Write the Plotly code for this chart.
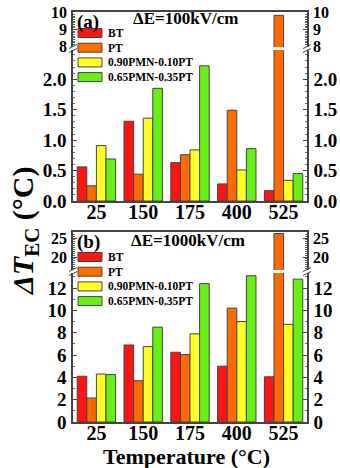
import plotly.graph_objects as go

categories = ["25", "150", "175", "400", "525"]
names = ["BT", "PT", "0.90PMN-0.10PT", "0.65PMN-0.35PT"]
colors = ["#ff1414", "#ff6a00", "#ffff22", "#66f014"]

# panel (a): dE = 100 kV/cm
a_bt = [0.56, 1.31, 0.63, 0.28, 0.17]
a_pt = [0.25, 0.44, 0.76, 1.49, 9.85]
a_090 = [0.91, 1.36, 0.84, 0.51, 0.34]
a_065 = [0.69, 1.85, 2.22, 0.86, 0.45]

# panel (b): dE = 1000 kV/cm
b_bt = [4.1, 6.9, 6.25, 5.0, 4.05]
b_pt = [2.15, 3.7, 6.05, 10.2, 26.2]
b_090 = [4.3, 6.75, 7.9, 9.0, 8.75]
b_065 = [4.25, 8.5, 12.4, 13.1, 12.8]

a_vals = [a_bt, a_pt, a_090, a_065]
b_vals = [b_bt, b_pt, b_090, b_065]

FONT = "Liberation Serif"
fig = go.Figure()

# each series drawn twice per panel: lower segment + upper (broken) segment
for vals, xl, yl, xu, yu in [(a_vals, "x", "y", "x3", "y2"),
                             (b_vals, "x2", "y3", "x4", "y4")]:
    for name, col, v in zip(names, colors, vals):
        for xa, ya in [(xl, yl), (xu, yu)]:
            fig.add_trace(go.Bar(x=categories, y=v, name=name, marker_color=col,
                                 marker_line=dict(color="#444", width=1),
                                 xaxis=xa, yaxis=ya, showlegend=False))

# empty traces so the right-hand twin axes get drawn
for xa, ya in [("x", "y5"), ("x3", "y6"), ("x2", "y7"), ("x4", "y8")]:
    fig.add_trace(go.Scatter(x=categories, y=[None] * 5, mode="none", xaxis=xa, yaxis=ya,
                             showlegend=False, hoverinfo="skip"))

# pixels: plot left 73, right 307, top 12, bottom 422
def py(p):
    return (422 - p) / 410

def px(p):
    return (p - 73) / 234

def yax(dom, rng, tv, fmt, anchor, side="left", overlay=None, fs=19):
    d = dict(showline=True, linecolor="#444", linewidth=1.5, zeroline=False,
             showgrid=False, ticks="inside", ticklen=4, tickcolor="#444",
             minor=dict(ticks="inside", ticklen=2, tickcolor="#666"),
             tickfont=dict(family=FONT, size=fs, color="black", weight="bold"),
             domain=dom, range=rng, tickvals=tv, ticktext=[fmt % t for t in tv],
             anchor=anchor, side=side, automargin=False, ticklabelstandoff=1)
    if overlay:
        d["overlaying"] = overlay
    return d

a_lo_ticks = [0.0, 0.5, 1.0, 1.5, 2.0]
a_hi_ticks = [8, 9, 10]
b_lo_ticks = [0, 2, 4, 6, 8, 10, 12]
b_hi_ticks = [20, 25]

dom_a_hi = [py(47), py(12)]
dom_a_lo = [py(201), py(50)]
dom_b_hi = [py(270), py(232)]
dom_b_lo = [py(422), py(273)]

rng_a_lo = [0, 2.48]
rng_a_hi = [7.95, 10.05]
rng_b_lo = [0, 13.35]
rng_b_hi = [16.6, 26.6]

xbase = dict(type="category", showline=True, linecolor="#444", linewidth=1.5,
             showgrid=False, ticks="", automargin=False, ticklabelstandoff=-8,
             tickfont=dict(family=FONT, size=20, color="black", weight="bold"))

fig.update_layout(
    width=340, height=468,
    margin=dict(l=73, r=33, t=12, b=46),
    paper_bgcolor="white", plot_bgcolor="white",
    barmode="group", bargap=0.18, bargroupgap=0,
    showlegend=False,
    font=dict(family=FONT, color="black"),
    xaxis=dict(xbase, anchor="y", domain=[0, 1]),
    xaxis2=dict(xbase, anchor="y3", domain=[0, 1]),
    xaxis3=dict(xbase, anchor="y2", side="top", showticklabels=False, matches="x"),
    xaxis4=dict(xbase, anchor="y4", side="top", showticklabels=False, matches="x2"),
    yaxis=yax(dom_a_lo, rng_a_lo, a_lo_ticks, "%.1f", "x"),
    yaxis2=yax(dom_a_hi, rng_a_hi, a_hi_ticks, "%d", "x3", fs=16),
    yaxis3=yax(dom_b_lo, rng_b_lo, b_lo_ticks, "%d", "x2"),
    yaxis4=yax(dom_b_hi, rng_b_hi, b_hi_ticks, "%d", "x4", fs=16),
    yaxis5=yax(dom_a_lo, rng_a_lo, a_lo_ticks, "%.1f", "x", "right", "y"),
    yaxis6=yax(dom_a_hi, rng_a_hi, a_hi_ticks, "%d", "x3", "right", "y2", fs=16),
    yaxis7=yax(dom_b_lo, rng_b_lo, b_lo_ticks, "%d", "x2", "right", "y3"),
    yaxis8=yax(dom_b_hi, rng_b_hi, b_hi_ticks, "%d", "x4", "right", "y4", fs=16),
)

ann = [
    dict(text="<b>(a)</b>", x=px(75), y=py(22), xanchor="left", size=19),
    dict(text="<b>ΔE=100kV/cm</b>", x=px(185), y=py(18), xanchor="center", size=17),
    dict(text="<b>(b)</b>", x=px(75), y=py(242), xanchor="left", size=19),
    dict(text="<b>ΔE=1000kV/cm</b>", x=px(188), y=py(240), xanchor="center", size=17),
    dict(text="<b>Temperature (°C)</b>", x=px(186), y=py(456), xanchor="center", size=22),
]
for a in ann:
    fig.add_annotation(text=a["text"], x=a["x"], y=a["y"], xref="paper", yref="paper",
                       xanchor=a["xanchor"], yanchor="middle", showarrow=False,
                       font=dict(family=FONT, size=a["size"], color="black"))

fig.add_annotation(text="<b><i>ΔT</i><sub>EC</sub> (°C)</b>", x=px(25), y=py(231),
                   xref="paper", yref="paper", textangle=-90, showarrow=False,
                   xanchor="center", yanchor="middle",
                   font=dict(family=FONT, size=30, color="black"))

# legends: wide colour boxes with bold labels
for top in [33, 257]:
    for i, (name, col) in enumerate(zip(names, colors)):
        yc = py(top + 14.7 * i)
        fig.add_shape(type="rect", xref="paper", yref="paper",
                      xsizemode="pixel", ysizemode="pixel", xanchor=0, yanchor=yc,
                      x0=5, x1=29, y0=-4.5, y1=4.5, fillcolor=col,
                      line=dict(color="#444", width=1))
        fig.add_annotation(text="<b>%s</b>" % name, x=px(106), y=yc, xref="paper",
                           yref="paper", xanchor="left", yanchor="middle", showarrow=False,
                           font=dict(family=FONT, size=11.5, color="black"))

# axis break marks
for yb in [py(48.5), py(271.5)]:
    for xp in [0, 1]:
        for dy in [-2, 2]:
            fig.add_shape(type="line", xref="paper", yref="paper",
                          xsizemode="pixel", ysizemode="pixel", xanchor=xp, yanchor=yb,
                          x0=-4, x1=4, y0=dy - 2, y1=dy + 2,
                          line=dict(color="#444", width=1))

# drop the default 8px page margin so the figure fills the window
fig.write_html("out.html", config={"displayModeBar": False},
               post_script="document.body.style.margin='0';")
